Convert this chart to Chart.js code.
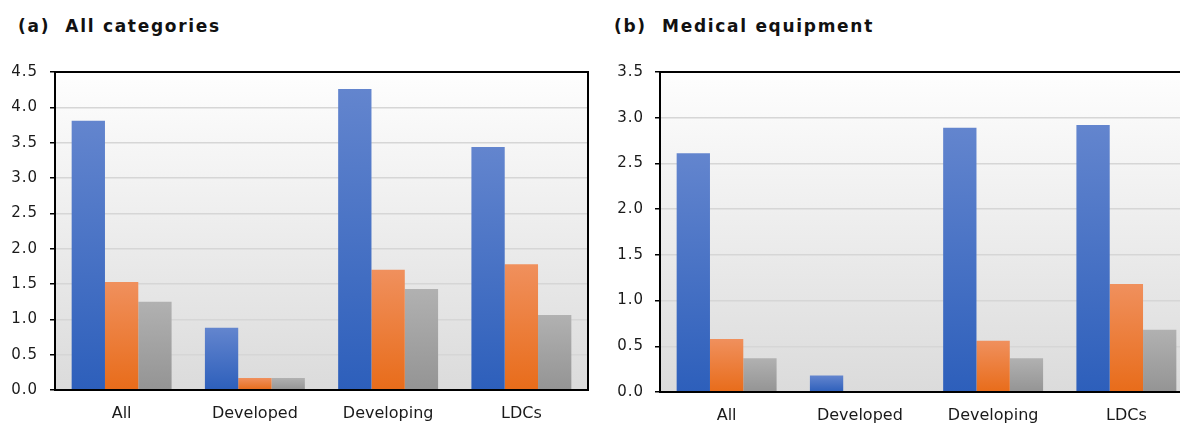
<!DOCTYPE html>
<html>
<head>
<meta charset="utf-8">
<script src="https://cdn.jsdelivr.net/npm/chart.js@4/dist/chart.umd.min.js"></script>
<style>
  html, body { margin: 0; padding: 0; background: #fff; width: 1180px; height: 423px; overflow: hidden; }
  .title { position: absolute; top: 16px; font: bold 17px "DejaVu Sans"; letter-spacing: 1.7px; color: #111; white-space: pre; }
  canvas { position: absolute; top: 0; }
</style>
</head>
<body>
<div class="title" style="left:18px">(a)  All categories</div>
<div class="title" style="left:614px">(b)  Medical equipment</div>
<canvas id="chart-a" width="600" height="440" style="left:0"></canvas>
<canvas id="chart-b" width="600" height="440" style="left:600px"></canvas>

<script>
// ── Data ─────────────────────────────────────────────────────────
const categories = ["All", "Developed", "Developing", "LDCs"];
const seriesNames = ["Series 1", "Series 2", "Series 3"];

const allBlue   = [3.81, 0.88, 4.26, 3.44];
const allOrange = [1.53, 0.17, 1.70, 1.78];
const allGray   = [1.25, 0.17, 1.43, 1.06];

const medBlue   = [2.61, 0.18, 2.89, 2.92];
const medOrange = [0.58, 0.01, 0.56, 1.18];
const medGray   = [0.37, 0.00, 0.37, 0.68];

const yTicksA = { max: 4.5, step: 0.5 };
const yTicksB = { max: 3.5, step: 0.5 };

// top / bottom colour of each bar gradient
const FILLS = [
  ["#6385ce", "#2d5fbb"],
  ["#f0905d", "#e86c1a"],
  ["#b1b1b1", "#949494"],
];

function barFill(pair) {
  return ctx => {
    const y = ctx.chart.scales.y;
    if (!y || !ctx.parsed) return pair[1];
    const top = y.getPixelForValue(ctx.parsed.y);
    const base = y.getPixelForValue(0);
    if (!isFinite(top) || !isFinite(base) || base - top < 1) return pair[1];
    const g = ctx.chart.ctx.createLinearGradient(0, top, 0, base);
    g.addColorStop(0, pair[0]);
    g.addColorStop(1, pair[1]);
    return g;
  };
}

// widen the y tick text a little, like the source
function spaceLabels(scale, px) {
  if (scale._spaced) return;
  const draw = scale.drawLabels.bind(scale);
  scale.drawLabels = area => {
    scale.ctx.save();
    scale.ctx.letterSpacing = px;
    draw(area);
    scale.ctx.restore();
  };
  scale._spaced = true;
}

const frame = {
  id: "frame",
  beforeDraw(chart) {
    const { ctx, chartArea: a } = chart;
    spaceLabels(chart.scales.y, "1px");
    const g = ctx.createLinearGradient(0, a.top, 0, a.bottom);
    g.addColorStop(0, "#fefefe");
    g.addColorStop(1, "#dbdbdb");
    ctx.save();
    ctx.fillStyle = g;
    ctx.fillRect(a.left, a.top, a.right - a.left, a.bottom - a.top);
    ctx.restore();
  },
  afterDraw(chart) {
    const { ctx, chartArea: a } = chart;
    ctx.save();
    ctx.strokeStyle = "#000";
    ctx.lineWidth = 2;
    ctx.strokeRect(a.left, a.top, a.right - a.left, a.bottom - a.top);
    ctx.restore();
  },
};

function makeChart(id, series, yt, lay) {
  new Chart(document.getElementById(id), {
    type: "bar",
    data: {
      labels: categories,
      datasets: series.map((d, i) => ({
        label: seriesNames[i],
        data: d,
        backgroundColor: barFill(FILLS[i]),
        borderWidth: 0,
        categoryPercentage: 0.75,
        barPercentage: 1.0,
      })),
    },
    options: {
      responsive: false,
      animation: false,
      layout: { padding: { top: 72, right: lay.right, left: 0, bottom: 0 } },
      plugins: { legend: { display: false }, tooltip: { enabled: false } },
      scales: {
        x: {
          grid: { display: false, drawTicks: false },
          border: { color: "#000", width: 2 },
          ticks: { color: "#1a1a1a", font: { family: "DejaVu Sans", size: 16 }, padding: 14, maxRotation: 0 },
          afterFit: s => { s.height = 440 - lay.bottom; },
        },
        y: {
          min: 0,
          max: yt.max,
          grid: { color: "#d6d6d6", lineWidth: 1.5, tickColor: "#000", tickLength: 5, tickWidth: 1.5 },
          border: { color: "#000", width: 2 },
          ticks: {
            stepSize: yt.step,
            color: "#1a1a1a",
            font: { family: "DejaVu Sans", size: 15 },
            padding: lay.pad,
            callback: v => v.toFixed(1),
          },
          afterFit: s => { s.width = lay.left; },
        },
      },
    },
    plugins: [frame],
  });
}

makeChart("chart-a", [allBlue, allOrange, allGray], yTicksA, { left: 55, right: 12, bottom: 390, pad: 12 });
makeChart("chart-b", [medBlue, medOrange, medGray], yTicksB, { left: 60, right: 7, bottom: 392, pad: 11 });
</script>
</body>
</html>
